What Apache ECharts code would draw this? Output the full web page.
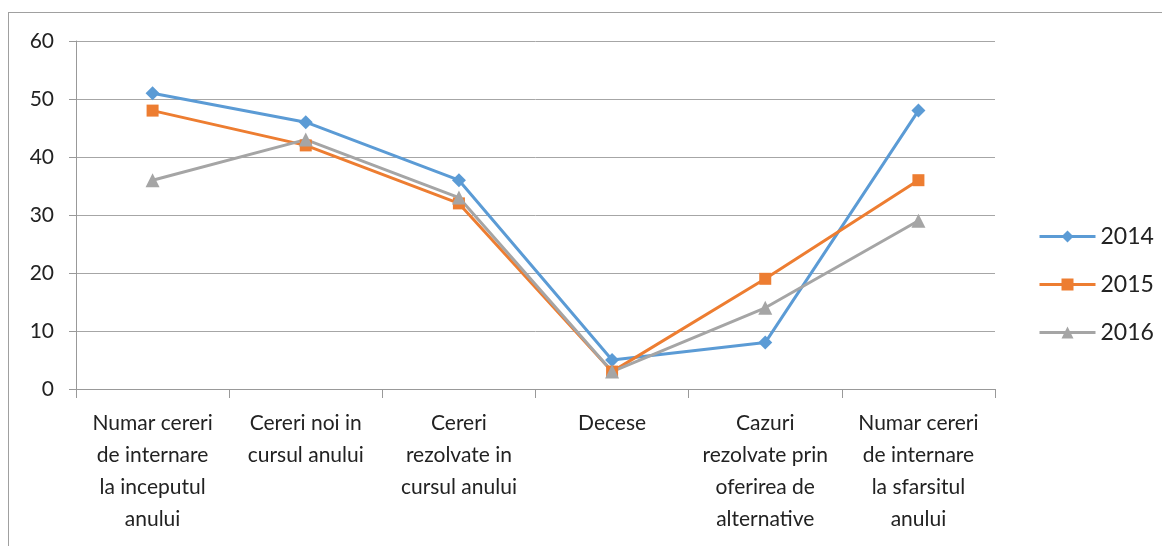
<!DOCTYPE html>
<html>
<head>
<meta charset="utf-8">
<script src="https://cdn.jsdelivr.net/npm/echarts@6/dist/echarts.min.js"></script>
<style>
  body { margin: 0; background: #fff; }
  #frame { position: absolute; left: 8px; top: 12px; width: 1200px; height: 600px; border: 1px solid #a0a0a0; }
  #main { position: absolute; left: 0; top: 0; width: 1162px; height: 546px; }
</style>
</head>
<body>
<div id="frame"></div>
<div id="main"></div>
<script>
const categories = [
  "Numar cereri\nde internare\nla inceputul\nanului",
  "Cereri noi in\ncursul anului",
  "Cereri\nrezolvate in\ncursul anului",
  "Decese",
  "Cazuri\nrezolvate prin\noferirea de\nalternative",
  "Numar cereri\nde internare\nla sfarsitul\nanului"
];
const years = ["2014", "2015", "2016"];
const values2014 = [51, 46, 36, 5, 8, 48];
const values2015 = [48, 42, 32, 3, 19, 36];
const values2016 = [36, 43, 33, 3, 14, 29];
const yTicks = { min: 0, max: 60, interval: 10 };

const colors = ["#5B9BD5", "#ED7D31", "#A5A5A5"];
const symbols = ["diamond", "rect", "triangle"];
const sizes = [14, 12, 14];
const font = 'Lato, "Open Sans", sans-serif';

let myChart = echarts.init(document.getElementById("main"));
const option = {
  animation: false,
  color: colors,
  textStyle: { fontFamily: font },
  grid: { left: 76, right: 167, top: 41, bottom: 157 },
  legend: {
    orient: "vertical",
    left: 1033,
    top: 220,
    itemGap: 25,
    itemWidth: 56,
    itemHeight: 15,
    lineStyle: { width: 3 },
    textStyle: { fontSize: 23, color: "#222", fontFamily: font },
    data: years
  },
  xAxis: {
    type: "category",
    boundaryGap: true,
    data: categories,
    axisLine: { lineStyle: { color: "#999", width: 1 } },
    axisTick: { show: true, length: 9, lineStyle: { color: "#999" } },
    axisLabel: {
      interval: 0,
      fontSize: 21,
      lineHeight: 32,
      color: "#222",
      margin: 18,
      fontFamily: font
    }
  },
  yAxis: {
    type: "value",
    min: yTicks.min,
    max: yTicks.max,
    interval: yTicks.interval,
    axisLine: { show: true, lineStyle: { color: "#999" } },
    axisTick: { show: true, length: 7, inside: false, lineStyle: { color: "#999" } },
    splitLine: { lineStyle: { color: "#a6a6a6", width: 1 } },
    axisLabel: { fontSize: 21, color: "#222", margin: 22, fontFamily: font }
  },
  series: [values2014, values2015, values2016].map((d, i) => ({
    name: years[i],
    type: "line",
    data: d,
    symbol: symbols[i],
    symbolSize: sizes[i],
    lineStyle: { width: 3 },
    itemStyle: { color: colors[i] }
  }))
};
myChart.setOption(option);
</script>
</body>
</html>
